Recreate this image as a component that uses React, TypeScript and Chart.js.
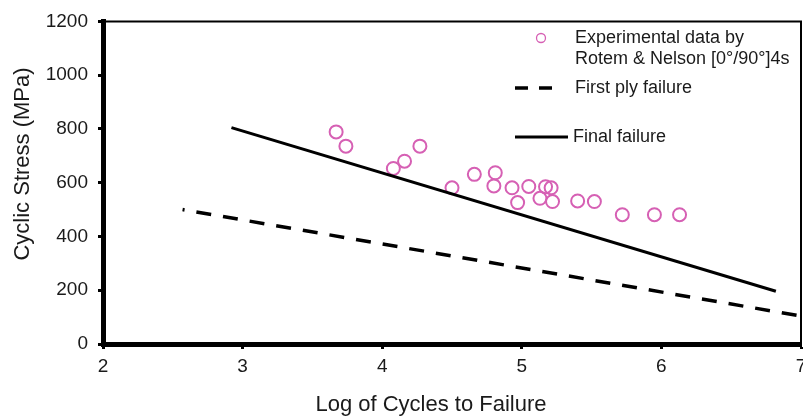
import React, { useEffect, useRef } from "react";
import { Chart, registerables } from "chart.js";

Chart.register(...registerables);

// Experimental data (Rotem & Nelson [0°/90°]4s)
const expLogCycles = [3.67, 3.74, 4.08, 4.16, 4.27, 4.5, 4.66, 4.81, 4.8, 4.93, 4.97, 5.05, 5.17, 5.13, 5.21, 5.22, 5.4, 5.52, 5.72, 5.95, 6.13];
const expStress = [789, 736, 653, 680, 736, 581, 631, 637, 588, 581, 526, 586, 585, 542, 581, 530, 532, 530, 481, 481, 481];

// First ply failure (dashed)
const fpfLogCycles = [2.57, 7.0];
const fpfStress = [500, 104];

// Final failure (solid)
const ffLogCycles = [2.92, 6.82];
const ffStress = [805, 196];

const xTicks = [2, 3, 4, 5, 6, 7];
const yTicks = [0, 200, 400, 600, 800, 1000, 1200];

const xTitle = "Log of Cycles to Failure";
const yTitle = "Cyclic Stress (MPa)";
const legendLabels = ["Experimental data by", "Rotem & Nelson [0°/90°]4s", "First ply failure", "Final failure"];

const PINK = "#d660b4";
const TEXT = "#1a1a1a";
const FONT = "'Liberation Sans', Arial, sans-serif";

const zip = (xs: number[], ys: number[]) => xs.map((x, i) => ({ x, y: ys[i] }));

export default function App() {
  const ref = useRef<HTMLCanvasElement | null>(null);

  useEffect(() => {
    document.body.style.overflow = "hidden";
    document.documentElement.style.overflow = "hidden";
    const canvas = ref.current!;
    const decor = {
      id: "decor",
      afterDraw(chart: any) {
        const { ctx, chartArea } = chart;
        ctx.save();
        // top & right frame lines
        ctx.strokeStyle = "#000";
        ctx.lineWidth = 2;
        ctx.beginPath();
        ctx.moveTo(chartArea.left, chartArea.top);
        ctx.lineTo(chartArea.right, chartArea.top);
        ctx.lineTo(chartArea.right, chartArea.bottom);
        ctx.stroke();

        // axis titles
        ctx.fillStyle = TEXT;
        ctx.font = `22px ${FONT}`;
        ctx.textAlign = "center";
        ctx.textBaseline = "middle";
        ctx.fillText(xTitle, 431, 405);
        ctx.save();
        ctx.translate(23, 164);
        ctx.rotate(-Math.PI / 2);
        ctx.fillText(yTitle, 0, 0);
        ctx.restore();

        // legend
        ctx.font = `18px ${FONT}`;
        ctx.textAlign = "left";
        ctx.fillStyle = TEXT;
        ctx.strokeStyle = PINK;
        ctx.lineWidth = 1.3;
        ctx.beginPath();
        ctx.arc(541, 38, 4.5, 0, Math.PI * 2);
        ctx.stroke();
        ctx.fillText(legendLabels[0], 575, 38);
        ctx.fillText(legendLabels[1], 575, 59);

        ctx.strokeStyle = "#000";
        ctx.lineWidth = 3.5;
        ctx.setLineDash([13, 11]);
        ctx.beginPath();
        ctx.moveTo(515, 88);
        ctx.lineTo(558, 88);
        ctx.stroke();
        ctx.setLineDash([]);
        ctx.fillText(legendLabels[2], 575, 88);

        ctx.lineWidth = 3;
        ctx.beginPath();
        ctx.moveTo(515, 137);
        ctx.lineTo(568, 137);
        ctx.stroke();
        ctx.fillText(legendLabels[3], 573, 137);
        ctx.restore();
      },
    };

    const tickFont = { family: FONT, size: 19 };
    const chart = new Chart(canvas, {
      type: "scatter",
      data: {
        datasets: [
          {
            label: "First ply failure",
            data: zip(fpfLogCycles, fpfStress),
            showLine: true,
            borderColor: "#000",
            borderWidth: 3.5,
            borderDash: [15, 12],
            borderDashOffset: 13,
            pointRadius: 0,
          },
          {
            label: "Final failure",
            data: zip(ffLogCycles, ffStress),
            showLine: true,
            borderColor: "#000",
            borderWidth: 3,
            pointRadius: 0,
          },
          {
            label: "Experimental data",
            data: zip(expLogCycles, expStress),
            pointStyle: "circle",
            pointRadius: 6.5,
            pointBorderWidth: 2,
            borderColor: PINK,
            backgroundColor: "rgba(0,0,0,0)",
          },
        ],
      },
      options: {
        responsive: false,
        animation: false,
        layout: { padding: { top: 19, right: 29, bottom: 0, left: 0 } },
        plugins: { legend: { display: false }, tooltip: { enabled: false } },
        scales: {
          x: {
            type: "linear",
            min: 2,
            max: 7,
            afterFit: (s: any) => { s.height = 73; },
            afterBuildTicks: (s: any) => { s.ticks = xTicks.map((v) => ({ value: v })); },
            border: { display: true, color: "#000", width: 5 },
            grid: { display: true, drawOnChartArea: false, drawTicks: true, tickLength: 5, tickWidth: 3, tickColor: "#000" },
            ticks: { color: TEXT, font: tickFont, padding: 6, callback: (v: any) => String(v) },
          },
          y: {
            type: "linear",
            min: 0,
            max: 1200,
            afterFit: (s: any) => { s.width = 103; },
            afterBuildTicks: (s: any) => { s.ticks = yTicks.map((v) => ({ value: v })); },
            border: { display: true, color: "#000", width: 5 },
            grid: { display: true, drawOnChartArea: false, drawTicks: true, tickLength: 5, tickWidth: 3, tickColor: "#000" },
            ticks: { color: TEXT, font: tickFont, padding: 10, callback: (v: any) => String(v) },
          },
        },
      },
      plugins: [decor],
    });
    return () => chart.destroy();
  }, []);

  return (
    <div style={{ position: "fixed", left: 0, top: 0, width: 830, height: 417, background: "#fff" }}>
      <canvas ref={ref} width={830} height={417} style={{ display: "block" }} />
    </div>
  );
}
